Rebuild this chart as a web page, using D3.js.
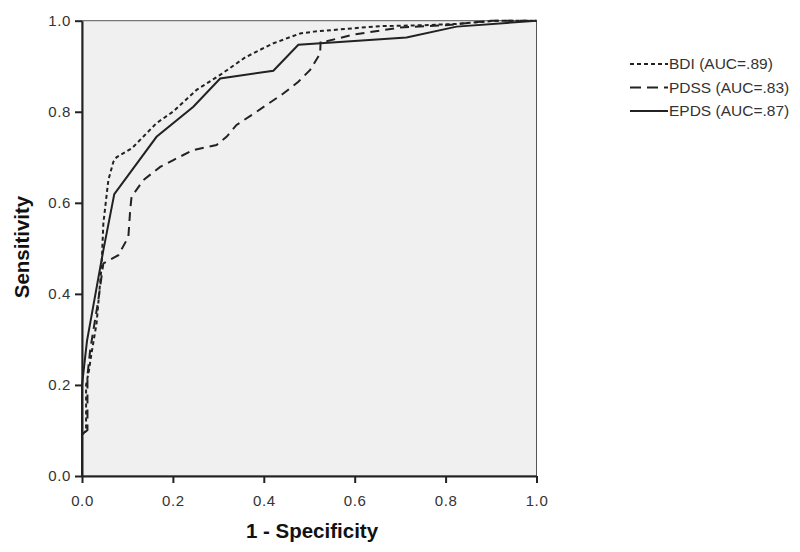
<!DOCTYPE html>
<html><head><meta charset="utf-8">
<script src="https://cdn.jsdelivr.net/npm/d3@7"></script>
<style>body{margin:0;background:#fff}svg{display:block}</style>
</head><body>
<svg id="c" width="800" height="552"></svg>
<script>
const seriesNames = ["BDI (AUC=.89)", "PDSS (AUC=.83)", "EPDS (AUC=.87)"];
const bdiX = [0,0,0.009,0.009,0.015,0.021,0.032,0.043,0.047,0.058,0.069,0.076,0.11,0.164,0.2,0.252,0.304,0.36,0.42,0.48,0.51,0.58,0.656,0.75,0.824,0.912,1];
const bdiY = [0,0.09,0.1,0.2,0.23,0.27,0.335,0.46,0.555,0.65,0.69,0.7,0.72,0.775,0.8,0.848,0.881,0.92,0.95,0.972,0.976,0.982,0.988,0.99,0.993,1,1];
const pdssX = [0,0,0.012,0.012,0.018,0.036,0.047,0.08,0.102,0.106,0.109,0.135,0.172,0.201,0.245,0.296,0.318,0.34,0.384,0.406,0.443,0.476,0.502,0.524,0.525,0.538,0.6,0.7,0.8,0.9,1];
const pdssY = [0,0.09,0.101,0.22,0.277,0.387,0.467,0.485,0.525,0.584,0.613,0.65,0.679,0.694,0.716,0.727,0.745,0.771,0.8,0.815,0.84,0.866,0.892,0.928,0.955,0.955,0.97,0.985,0.99,1,1];
const epdsX = [0,0,0.011,0.047,0.071,0.164,0.245,0.304,0.421,0.476,0.55,0.714,0.824,1];
const epdsY = [0,0.2,0.297,0.496,0.619,0.745,0.811,0.873,0.89,0.947,0.952,0.963,0.987,1];
const ticks = [0,0.2,0.4,0.6,0.8,1.0];

const svg = d3.select("#c");
const L = 82, R = 536.5, T = 20.7, B = 476;
const x = d3.scaleLinear().domain([0,1]).range([L,R]);
const y = d3.scaleLinear().domain([0,1]).range([B,T]);

svg.append("rect").attr("x",L).attr("y",T).attr("width",R-L).attr("height",B-T)
  .attr("fill","#f0f0f0").attr("stroke","#555").attr("stroke-width",1);

const font = "'Liberation Sans', Arial, sans-serif";
const xa = svg.append("g").attr("transform",`translate(0,${B})`)
  .call(d3.axisBottom(x).tickValues(ticks).tickFormat(d3.format(".1f")).tickSize(7).tickSizeOuter(0));
const ya = svg.append("g").attr("transform",`translate(${L},0)`)
  .call(d3.axisLeft(y).tickValues(ticks).tickFormat(d3.format(".1f")).tickSize(7).tickSizeOuter(0));
[xa,ya].forEach(a=>{
  a.select(".domain").attr("stroke","#222").attr("stroke-width",2);
  a.selectAll(".tick line").attr("stroke","#222").attr("stroke-width",2);
  a.selectAll(".tick text").attr("fill","#333").style("font-family",font)
    .style("font-size","15px").style("letter-spacing","0.6px");
});
xa.selectAll(".tick text").attr("y",16).attr("dy","0.9em");
ya.selectAll(".tick text").attr("x",-11);

const line = d3.line().x(d=>x(d[0])).y(d=>y(d[1]));
const series = [
  {name:seriesNames[0], xs:bdiX, ys:bdiY, dash:"4,3", legDash:"4,3"},
  {name:seriesNames[1], xs:pdssX, ys:pdssY, dash:"9,6", legDash:"11,6"},
  {name:seriesNames[2], xs:epdsX, ys:epdsY, dash:null, legDash:null}
];
series.forEach(s=>{
  const pts = s.xs.map((v,i)=>[v,s.ys[i]]);
  svg.append("path").datum(pts).attr("d",line).attr("fill","none")
    .attr("stroke","#222").attr("stroke-width",2).attr("stroke-dasharray",s.dash);
});

// legend
const lg = svg.append("g");
series.forEach((s,i)=>{
  const yy = 64 + i*23.5;
  lg.append("line").attr("x1",630).attr("x2",668).attr("y1",yy).attr("y2",yy)
    .attr("stroke","#222").attr("stroke-width",2).attr("stroke-dasharray",s.legDash);
  lg.append("text").attr("x",669).attr("y",yy).attr("dy","0.35em").text(s.name)
    .attr("fill","#333").style("font-family",font).style("font-size","15.5px");
});

svg.append("text").attr("x",312).attr("y",538).attr("text-anchor","middle")
  .text("1 - Specificity").attr("fill","#111").style("font-family",font)
  .style("font-size","20.5px").style("font-weight","bold");
svg.append("text").attr("transform",`translate(29,247) rotate(-90)`)
  .attr("text-anchor","middle").text("Sensitivity").attr("fill","#111")
  .style("font-family",font).style("font-size","20.5px").style("font-weight","bold");
</script>
</body></html>
